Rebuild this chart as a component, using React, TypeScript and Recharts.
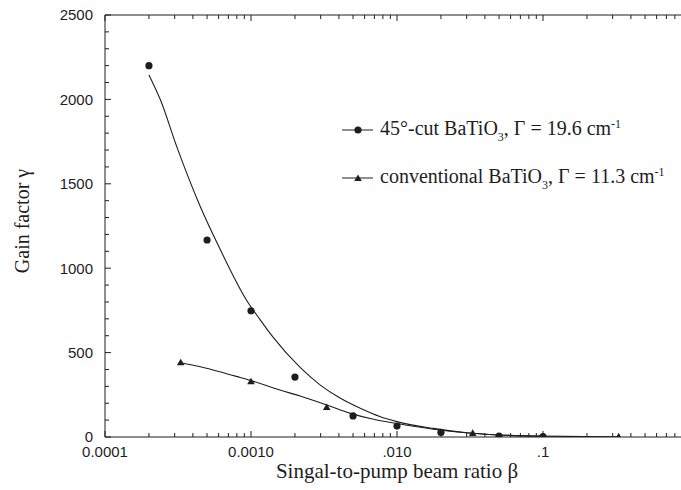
import { ComposedChart, Line, Scatter, XAxis, YAxis, Legend } from "recharts";

// measured points, 45°-cut crystal (circles)
const CUT_BETA = [0.0002, 0.0005, 0.001, 0.002, 0.005, 0.01, 0.02, 0.05, 0.1];
const CUT_GAIN = [2200, 1167, 748, 355, 125, 65, 27, 5, 2];

// measured points, conventional crystal (triangles)
const CONV_BETA = [0.00033, 0.001, 0.0033, 0.033, 0.33];
const CONV_GAIN = [440, 328, 175, 22, 1];

// fitted curves
const CUT_FIT_BETA = [0.0002, 0.00024, 0.00031, 0.00045, 0.00061, 0.00093, 0.00115, 0.00142, 0.00217, 0.003, 0.0041, 0.0056, 0.0077, 0.01, 0.0177, 0.03, 0.05, 0.1];
const CUT_FIT_GAIN = [2145, 1996, 1720, 1364, 1118, 812, 697, 590, 412, 306, 229, 170, 120, 91, 51, 25, 12, 5];

const CONV_FIT_BETA = [0.00033, 0.00045, 0.00061, 0.00084, 0.001, 0.00158, 0.00217, 0.0033, 0.0048, 0.0069, 0.0098, 0.0177, 0.0326, 0.05, 0.1, 0.2, 0.33];
const CONV_FIT_GAIN = [440, 416, 387, 353, 334, 278, 243, 190, 140, 105, 81, 46, 22, 12, 5, 2, 1];

// axis ticks (the decade at 1 lies past the right edge of the picture, so it has no label)
const X_MAJOR = [0.0001, 0.001, 0.01, 0.1, 1];
const X_MAJOR_LABELS = ["0.0001", "0.0010", ".010", ".1"];
const X_MINOR_STEPS = [2, 3, 4, 5, 6, 7, 8, 9];
const Y_TICKS = [0, 100, 200, 300, 400, 500, 600, 700, 800, 900, 1000, 1100, 1200, 1300, 1400, 1500, 1600, 1700, 1800, 1900, 2000, 2100, 2200, 2300, 2400, 2500];

const X_TICKS = [
  ...X_MAJOR,
  ...X_MAJOR.slice(0, 4).flatMap((d) => X_MINOR_STEPS.map((s) => +(d * s).toPrecision(3))),
].sort((a, b) => a - b);

const INK = "#1e1e1e";
const SANS = "'Liberation Sans', Arial, sans-serif";
const SERIF = "'Liberation Serif', 'Times New Roman', serif";

const zip = (b: number[], g: number[]) => b.map((v, i) => ({ beta: v, gain: g[i] }));

const cutPoints = zip(CUT_BETA, CUT_GAIN);
const convPoints = zip(CONV_BETA, CONV_GAIN);
const cutFit = zip(CUT_FIT_BETA, CUT_FIT_GAIN);
const convFit = zip(CONV_FIT_BETA, CONV_FIT_GAIN);

const BottomTick = ({ x, y, payload }: any) => {
  const i = X_MAJOR.indexOf(payload.value);
  const major = i >= 0;
  const label = major ? X_MAJOR_LABELS[i] : undefined;
  return (
    <g>
      <line x1={x} x2={x} y1={y} y2={y - (major ? 6 : 4)} stroke={INK} />
      {label && (
        <text x={x} y={y + 20} textAnchor="middle" fontSize={15} fontFamily={SANS} fill={INK}>
          {label}
        </text>
      )}
    </g>
  );
};

const TopTick = ({ x, y, payload }: any) => {
  const major = X_MAJOR.indexOf(payload.value) >= 0;
  return <line x1={x} x2={x} y1={y} y2={y + (major ? 6 : 4)} stroke={INK} />;
};

const LeftTick = ({ x, y, payload }: any) => {
  const major = payload.value % 500 === 0;
  return (
    <g>
      <line x1={x} x2={x + (major ? 6 : 4)} y1={y} y2={y} stroke={INK} />
      {major && (
        <text x={x - 12} y={y} dy="0.36em" textAnchor="end" fontSize={15} fontFamily={SANS} fill={INK}>
          {payload.value}
        </text>
      )}
    </g>
  );
};

const Dot = ({ cx, cy }: any) => <circle cx={cx} cy={cy} r={3.6} fill={INK} />;

const Tri = ({ cx, cy }: any) => (
  <polygon points={`${cx},${cy - 4} ${cx - 3.8},${cy + 2.6} ${cx + 3.8},${cy + 2.6}`} fill={INK} />
);

const YLabel = () => (
  <text x={29} y={221} transform="rotate(-90 29 221)" textAnchor="middle" fontSize={20} fontFamily={SERIF} fill={INK}>
    Gain factor γ
  </text>
);

const XLabel = () => (
  <text x={397} y={478} textAnchor="middle" fontSize={21} fontFamily={SERIF} fill={INK}>
    Singal-to-pump beam ratio β
  </text>
);

const LegendRow = ({ marker, name, gamma }: { marker: "dot" | "tri"; name: string; gamma: string }) => (
  <div style={{ display: "flex", alignItems: "center", height: 48 }}>
    <svg width={38} height={12} style={{ flex: "none" }}>
      <line x1={0} x2={31} y1={6} y2={6} stroke={INK} />
      {marker === "dot" ? <Dot cx={16} cy={6} /> : <Tri cx={16} cy={6.5} />}
    </svg>
    <span style={{ fontFamily: SERIF, fontSize: 20, color: INK, whiteSpace: "nowrap", lineHeight: 1 }}>
      {name}
      <sub style={{ fontSize: 12, verticalAlign: "-6px" }}>3</sub>, Γ = {gamma} cm
      <sup style={{ fontSize: 12, verticalAlign: "7px" }}>-1</sup>
    </span>
  </div>
);

const LegendBox = () => (
  <div>
    <LegendRow marker="dot" name="45°-cut BaTiO" gamma="19.6" />
    <LegendRow marker="tri" name="conventional BaTiO" gamma="11.3" />
  </div>
);

export default function App() {
  return (
    <div style={{ position: "fixed", left: 0, top: 0, width: 681, height: 490, overflow: "hidden", background: "#fff" }}>
      <ComposedChart width={700} height={490} margin={{ top: 14, right: 11, bottom: 0, left: 0 }}>
        <XAxis
          xAxisId="bottom"
          dataKey="beta"
          type="number"
          scale="log"
          domain={[0.0001, 1]}
          allowDataOverflow
          ticks={X_TICKS}
          interval={0}
          tickSize={0}
          tickMargin={0}
          tickLine={false}
          tick={<BottomTick />}
          axisLine={{ stroke: INK }}
          height={53}
          label={<XLabel />}
        />
        <XAxis
          xAxisId="top"
          orientation="top"
          dataKey="beta"
          type="number"
          scale="log"
          domain={[0.0001, 1]}
          allowDataOverflow
          ticks={X_TICKS}
          interval={0}
          tickSize={0}
          tickMargin={0}
          tickLine={false}
          tick={<TopTick />}
          axisLine={{ stroke: INK }}
          height={1}
        />
        <YAxis
          type="number"
          domain={[0, 2500]}
          allowDataOverflow
          ticks={Y_TICKS}
          interval={0}
          tickSize={0}
          tickMargin={0}
          tickLine={false}
          tick={<LeftTick />}
          axisLine={{ stroke: INK }}
          width={105}
          label={<YLabel />}
        />
        <Line xAxisId="bottom" data={cutFit} dataKey="gain" type="monotone" stroke={INK} strokeWidth={1.1} dot={false} isAnimationActive={false} legendType="none" />
        <Line xAxisId="bottom" data={convFit} dataKey="gain" type="monotone" stroke={INK} strokeWidth={1.1} dot={false} isAnimationActive={false} legendType="none" />
        <Scatter xAxisId="bottom" data={cutPoints} dataKey="gain" shape={<Dot />} isAnimationActive={false} legendType="none" />
        <Scatter xAxisId="bottom" data={convPoints} dataKey="gain" shape={<Tri />} isAnimationActive={false} legendType="none" />
        <Legend
          layout="vertical"
          align="center"
          verticalAlign="middle"
          content={<LegendBox />}
          wrapperStyle={{ left: 342, top: 106, width: 339 }}
        />
      </ComposedChart>
    </div>
  );
}
